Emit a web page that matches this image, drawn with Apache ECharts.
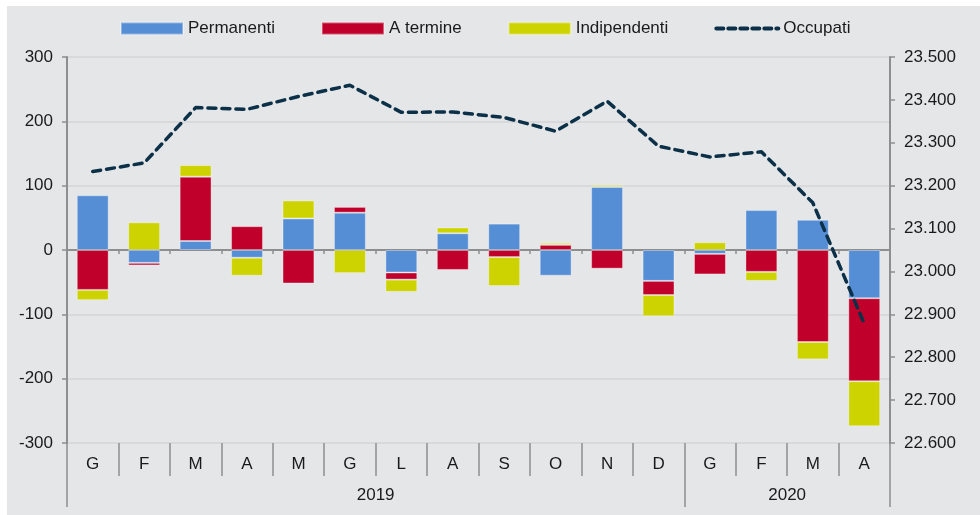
<!DOCTYPE html>
<html>
<head>
<meta charset="utf-8">
<script src="https://cdn.jsdelivr.net/npm/echarts@6/dist/echarts.min.js"></script>
<style>
  html, body { margin: 0; padding: 0; background: #ffffff; }
  #chart { position: absolute; left: 7px; top: 6px; width: 973px; height: 509px; background: #e5e6e8; }
</style>
</head>
<body>
<div id="chart"></div>
<script>
// ---- data ----
const months = ['G','F','M','A','M','G','L','A','S','O','N','D','G','F','M','A'];
const yearGroups = ['2019', '2020'];
const yearCounts = [12, 4];
const permanenti   = [85, -20, 14, -12, 49, 58, -35, 26, 41, -40, 98, -48, -6, 62, 47, -75];
const aTermine     = [-62, -4, 100, 37, -52, 9, -11, -31, -11, 8, -29, -22, -32, -34, -143, -129];
const indipendenti = [-16, 43, 18, -28, 28, -36, -19, 9, -45, 3, 3, -33, 12, -14, -27, -70];
// Occupati in migliaia
const occupati = [23233, 23253, 23382, 23378, 23408, 23434, 23371, 23372, 23359, 23327, 23397, 23292, 23267, 23279, 23160, 22878];
const leftTicks = { min: -300, max: 300, interval: 100 };
const rightTicks = { min: 22600, max: 23500, interval: 100 };

// year group boundaries and centres
const yearBounds = [0];
const yearCentres = [];
yearCounts.forEach((n, i) => {
  const start = yearBounds[yearBounds.length - 1];
  yearCentres.push(start + n / 2);
  yearBounds.push(start + n);
});

const FONT = 'Liberation Sans, Arial, sans-serif';
const TXT = '#1a1a1a';
const AXIS = '#8e8e8e';
const LINE = '#0b3048';

function fmtThousands(v) {
  const k = Math.floor(v / 1000);
  const r = String(Math.round(v - k * 1000)).padStart(3, '0');
  return k + '.' + r;
}

const chart = echarts.init(document.getElementById('chart'), null, { renderer: 'canvas' });
const barStyle = (c) => ({ color: c, borderColor: 'rgba(255,255,255,0.35)', borderWidth: 1 });

chart.setOption({
  animation: false,
  textStyle: { fontFamily: FONT },
  legend: {
    left: 108, top: 9,
    itemWidth: 62, itemHeight: 12, itemGap: 46,
    textStyle: { fontSize: 17, color: TXT, fontFamily: FONT },
    data: [
      { name: 'Permanenti', icon: 'rect' },
      { name: 'A termine', icon: 'rect' },
      { name: 'Indipendenti', icon: 'rect' },
      { name: 'Occupati', itemStyle: { opacity: 0 }, lineStyle: { width: 4, type: [7, 5], cap: 'round' } }
    ]
  },
  grid: { left: 60, right: 90, top: 51, bottom: 72, containLabel: false },
  xAxis: [
    { // zero line
      type: 'category', data: months, position: 'bottom',
      axisLine: { onZero: true, lineStyle: { color: AXIS, width: 2 } },
      axisTick: { show: true, length: 4, interval: 0, lineStyle: { color: AXIS, width: 1.5 } },
      axisLabel: { show: false }, splitLine: { show: false }
    },
    { // month labels at bottom
      type: 'category', data: months, position: 'bottom',
      axisLine: { show: false, onZero: false },
      axisTick: { show: true, length: 33, interval: 0, lineStyle: { color: AXIS, width: 1.5 } },
      axisLabel: { show: true, interval: 0, margin: 13, fontSize: 17, color: TXT, fontFamily: FONT },
      splitLine: { show: false }
    },
    { // year groups
      type: 'value', min: 0, max: months.length, position: 'bottom',
      axisLine: { show: false, onZero: false },
      axisTick: { show: true, length: 64, customValues: yearBounds, lineStyle: { color: AXIS, width: 1.5 } },
      axisLabel: {
        show: true, customValues: yearCentres, margin: 44, fontSize: 17, color: TXT, fontFamily: FONT,
        formatter: (v) => yearGroups[yearCentres.indexOf(v)] || ''
      },
      splitLine: { show: false }
    }
  ],
  yAxis: [
    {
      type: 'value', min: leftTicks.min, max: leftTicks.max, interval: leftTicks.interval,
      axisLine: { show: true, lineStyle: { color: AXIS, width: 2 } },
      axisTick: { show: true, length: 5, lineStyle: { color: AXIS, width: 1.5 } },
      axisLabel: { margin: 14, fontSize: 17, color: TXT, fontFamily: FONT },
      splitLine: { show: true, lineStyle: { color: '#d4d5d8', width: 1.5 } }
    },
    {
      type: 'value', min: rightTicks.min, max: rightTicks.max, interval: rightTicks.interval,
      position: 'right',
      axisLine: { show: true, lineStyle: { color: AXIS, width: 2 } },
      axisTick: { show: true, length: 5, lineStyle: { color: AXIS, width: 1.5 } },
      axisLabel: { margin: 14, fontSize: 17, color: TXT, fontFamily: FONT, formatter: fmtThousands },
      splitLine: { show: false }
    }
  ],
  series: [
    { name: 'Permanenti', type: 'bar', stack: 'tot', xAxisIndex: 0, yAxisIndex: 0, barWidth: '62%', data: permanenti, itemStyle: barStyle('#558ed5') },
    { name: 'A termine', type: 'bar', stack: 'tot', xAxisIndex: 0, yAxisIndex: 0, barWidth: '62%', data: aTermine, itemStyle: barStyle('#c0002a') },
    { name: 'Indipendenti', type: 'bar', stack: 'tot', xAxisIndex: 0, yAxisIndex: 0, barWidth: '62%', data: indipendenti, itemStyle: barStyle('#cdd300') },
    {
      name: 'Occupati', type: 'line', xAxisIndex: 0, yAxisIndex: 1, data: occupati,
      symbol: 'none', smooth: false, z: 5,
      lineStyle: { color: LINE, width: 3.5, type: [8, 6], cap: 'round' },
      itemStyle: { color: LINE }
    }
  ]
});
</script>
</body>
</html>
